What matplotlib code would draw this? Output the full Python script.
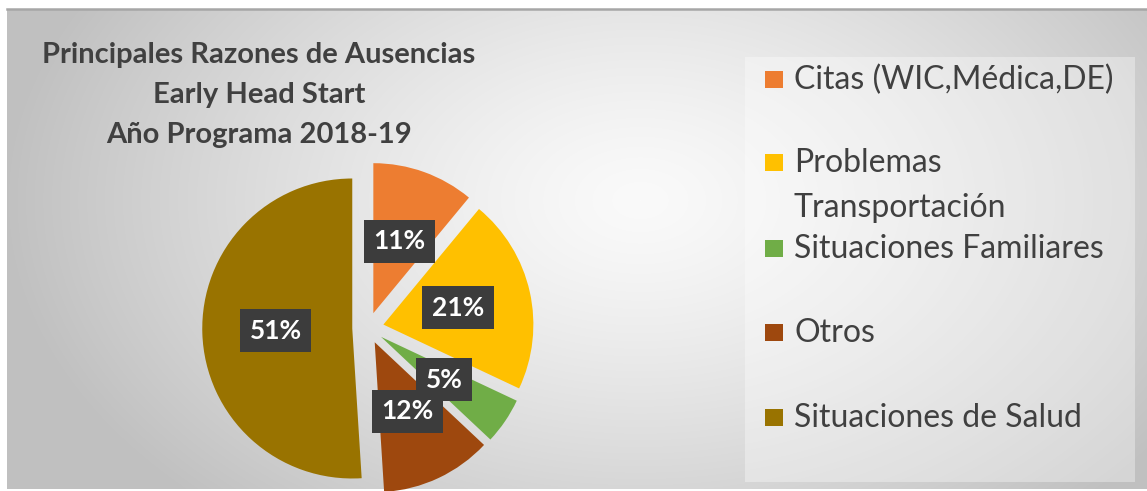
import numpy as np
import matplotlib.pyplot as plt
from matplotlib.patches import Rectangle

categories = ["Citas (WIC,Médica,DE)", "Problemas\nTransportación",
              "Situaciones Familiares", "Otros", "Situaciones de Salud"]
values = [11, 21, 5, 12, 51]
colors = ["#ED7D31", "#FFC000", "#70AD47", "#9E480E", "#997300"]
title_lines = ["Principales Razones de Ausencias", "Early Head Start",
               "Año Programa 2018-19"]

W, H = 1147, 491
fig = plt.figure(figsize=(W / 100, H / 100), dpi=100)
fig.patch.set_facecolor("white")

# background: radial grey gradient over the chart area
bg = fig.add_axes([0, 0, 1, 1])
bg.set_xlim(0, W)
bg.set_ylim(H, 0)
bg.axis("off")
yy, xx = np.mgrid[9:489, 7:W]
d = np.sqrt(((xx - 640) / 640.0) ** 2 + ((yy - 200) / 420.0) ** 2)
shade = 250 - 58 * np.clip(d, 0, 1) ** 1.3
img = np.dstack([shade, shade, shade]) / 255.0
bg.imshow(img, extent=[7, W, 489, 9], aspect="auto", zorder=0)
bg.plot([7, W], [9, 9], color="#a6a6a6", lw=1.8, zorder=1)

# legend panel (hand placed, like the Excel legend)
bg.add_patch(Rectangle((745, 57), 390, 425, facecolor="white", alpha=0.35,
                       edgecolor="none", zorder=1))
leg_base = [89, 172, 258, 342, 427]
for lab, c, yb in zip(categories, colors, leg_base):
    bg.add_patch(Rectangle((765, yb - 18), 18, 17, facecolor=c, edgecolor="none", zorder=2))
    first, *rest = lab.split("\n")
    bg.text(794, yb, first, fontsize=23, family="Lato", color="#404040",
            va="baseline", zorder=3)
    for k, extra in enumerate(rest, 1):
        bg.text(794, yb + 45 * k, extra, fontsize=23, family="Lato", color="#404040",
                va="baseline", zorder=3)

for k, line in enumerate(title_lines):
    bg.text(259, 63 + 40 * k, line, fontsize=21, family="Lato", weight="bold",
            color="#404040", ha="center", va="baseline", zorder=3)

# pie
r_px = 150
cx, cy = 368, 328
half = 1.3 * r_px
ax = fig.add_axes([(cx - half) / W, (H - cy - half) / H, 2 * half / W, 2 * half / H])
wedges, texts, autotexts = ax.pie(
    values, colors=colors, startangle=90, counterclock=False,
    explode=[0.105] * len(values), autopct="%1.0f%%", pctdistance=0.51,
    wedgeprops=dict(linewidth=0),
    textprops=dict(color="white", fontsize=19, weight="bold", family="Lato"),
)
for t in autotexts:
    t.set_bbox(dict(boxstyle="square,pad=0.36", facecolor="#3c3c3c", edgecolor="none"))
ax.set_xlim(-1.3, 1.3)
ax.set_ylim(-1.3, 1.3)
ax.axis("off")

fig.savefig("out.png", dpi=100)
